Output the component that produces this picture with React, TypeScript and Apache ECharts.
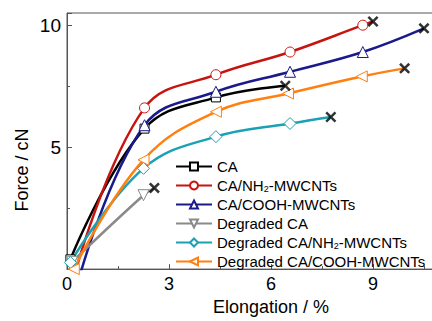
import React, { useEffect, useRef } from "react";
import * as echarts from "echarts";

const seriesNames = [
  "CA",
  "CA/NH{sub|2}-MWCNTs",
  "CA/COOH-MWCNTs",
  "Degraded CA",
  "Degraded CA/NH{sub|2}-MWCNTs",
  "Degraded CA/COOH-MWCNTs",
];
const seriesIds = ["CA", "CA/NH2-MWCNTs", "CA/COOH-MWCNTs", "Degraded CA", "Degraded CA/NH2-MWCNTs", "Degraded CA/COOH-MWCNTs"];

const caData = [[0.1, 0.4], [2.28, 5.76], [4.38, 7.04], [6.42, 7.52]];
const caNh2Data = [[0.25, -0.1], [2.28, 6.61], [4.38, 7.97], [6.56, 8.9], [8.7, 10.0], [9.0, 10.15]];
const caCoohData = [[0.35, -0.4], [2.28, 5.9], [4.38, 7.27], [6.56, 8.09], [8.7, 8.9], [10.5, 9.87]];
const degCaData = [[0.15, 0.3], [2.25, 3.03], [2.57, 3.33]];
const degNh2Data = [[0.1, 0.27], [2.25, 4.13], [4.38, 5.43], [6.56, 5.97], [7.76, 6.24]];
const degCoohData = [[0.2, 0.0], [2.25, 4.48], [4.38, 6.45], [6.5, 7.2], [8.67, 7.9], [9.93, 8.23]];

const allData = [caData, caNh2Data, caCoohData, degCaData, degNh2Data, degCoohData];
const colors = ["#000000", "#c8140f", "#1a1a8c", "#8a8a8a", "#1aa2b4", "#ff8010"];
const symbols = ["rect", "circle", "triangle", "triangle", "diamond", "triangle"];
const symbolRotates = [0, 0, 0, 180, 0, 90];
const symbolSizes = [9, 10, 11, 11, 12, 11];

const xTicks = [0, 3, 6, 9];
const yTicks = [5, 10];

const crossPath =
  "path://M0,1.6L1.6,0L5,3.4L8.4,0L10,1.6L6.6,5L10,8.4L8.4,10L5,6.6L1.6,10L0,8.4L3.4,5Z";

export default function App() {
  const ref = useRef<HTMLDivElement>(null);
  useEffect(() => {
    if (!ref.current) return;
    const chart = echarts.init(ref.current, undefined, { renderer: "svg" });
    const lineSeries = allData.map((d, i) => ({
      name: seriesIds[i],
      type: "line",
      smooth: 0.4,
      clip: true,
      z: 2,
      symbol: symbols[i],
      symbolRotate: symbolRotates[i],
      symbolSize: symbolSizes[i],
      showAllSymbol: true,
      lineStyle: { color: colors[i], width: 2.5 },
      itemStyle: { color: "#ffffff", borderColor: colors[i], borderWidth: 1 },
      data: d.map((p, j) => (j === d.length - 1 ? { value: p, symbol: "none" } : { value: p })),
    }));
    const ends = allData.map((d) => d[d.length - 1]);
    const option: any = {
      animation: false,
      grid: {
        left: 67,
        top: 13,
        width: 408,
        height: 263,
        show: true,
        borderColor: "#555",
        borderWidth: 1,
      },
      legend: {
        data: seriesIds,
        orient: "vertical",
        left: 170,
        top: 154,
        itemWidth: 36,
        itemHeight: 10,
        itemGap: 4,
        formatter: (n: string) => seriesNames[seriesIds.indexOf(n)],
        textStyle: {
          fontFamily: "Liberation Sans, Arial",
          fontSize: 15,
          color: "#000",
          rich: {
            sub: { fontFamily: "Liberation Sans, Arial", fontSize: 9, color: "#000", verticalAlign: "bottom" },
          },
        },
      },
      xAxis: {
        type: "value",
        min: 0,
        max: 12,
        interval: 3,
        name: "Elongation / %",
        nameLocation: "middle",
        nameGap: 28,
        nameTextStyle: { fontFamily: "Liberation Sans, Arial", fontSize: 18, color: "#000" },
        axisLine: { show: true, lineStyle: { color: "#555", width: 1 } },
        axisTick: { show: true, inside: true, length: 5, lineStyle: { color: "#555" } },
        minorTick: { show: true, splitNumber: 2, length: 3, lineStyle: { color: "#555" } },
        splitLine: { show: false },
        axisLabel: {
          fontFamily: "Liberation Sans, Arial",
          fontSize: 18,
          color: "#000",
          margin: 6,
          showMaxLabel: false,
          formatter: (v: number) => (xTicks.indexOf(v) >= 0 ? String(v) : ""),
        },
      },
      yAxis: {
        type: "value",
        min: 0,
        max: 10.5,
        interval: 5,
        axisLine: { show: true, lineStyle: { color: "#555", width: 1 } },
        axisTick: { show: true, inside: true, length: 5, lineStyle: { color: "#555" } },
        minorTick: { show: true, splitNumber: 2, length: 3, lineStyle: { color: "#555" } },
        splitLine: { show: false },
        axisLabel: {
          fontFamily: "Liberation Sans, Arial",
          fontSize: 19,
          color: "#000",
          margin: 6,
          showMaxLabel: false,
          formatter: (v: number) => (yTicks.indexOf(v) >= 0 ? String(v) : ""),
        },
      },
      graphic: [
        {
          type: "text",
          x: 22,
          y: 170,
          rotation: Math.PI / 2,
          style: {
            text: "Force / cN",
            fontFamily: "Liberation Sans, Arial",
            fontSize: 18,
            fill: "#000",
            align: "center",
            verticalAlign: "middle",
          },
        },
      ],
      series: [
        ...lineSeries,
        {
          name: "ends",
          type: "scatter",
          symbol: crossPath,
          symbolSize: 11,
          z: 5,
          itemStyle: { color: "#000" },
          data: ends,
        },
      ],
    };
    chart.setOption(option);
    return () => chart.dispose();
  }, []);
  return (
    <div style={{ position: "fixed", left: 0, top: 0, width: 432, height: 321, overflow: "hidden", background: "#fff" }}>
      <div ref={ref} style={{ width: 500, height: 321 }} />
    </div>
  );
}
